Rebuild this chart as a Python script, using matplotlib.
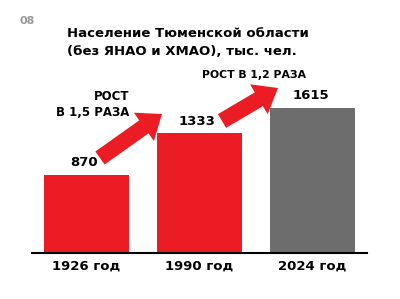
import matplotlib.pyplot as plt

# data
years = ['1926 год', '1990 год', '2024 год']
population = [870, 1333, 1615]
bar_colors = ['#EC1C24', '#EC1C24', '#6D6D6D']
growth_labels = ['РОСТ\nВ 1,5 РАЗА', 'РОСТ В 1,2 РАЗА']

fig = plt.figure(figsize=(4, 2.99), dpi=100)
ax = fig.add_axes([0.08, 0.1538, 0.8375, 0.602])

x = range(len(years))
ax.bar(x, population, width=0.75, color=bar_colors)
ax.set_xlim(-0.48, 2.48)
ax.set_ylim(0, 2000)

for i, v in enumerate(population):
    ax.text(i - 0.02, v + 133, str(v), ha='center', va='center',
            fontsize=9.5, fontweight='bold')

ax.set_xticks(list(x))
ax.set_xticklabels(years, fontsize=9.5, fontweight='bold')
ax.tick_params(axis='x', length=0, pad=5)
ax.set_yticks([])
for s in ['top', 'right', 'left']:
    ax.spines[s].set_visible(False)
ax.spines['bottom'].set_linewidth(1.5)

# title and page number
fig.text(0.05, 0.93, '08', fontsize=8, fontweight='bold', color='#999999',
         va='center')
fig.text(0.168, 0.858, 'Население Тюменской области\n(без ЯНАО и ХМАО), тыс. чел.',
         fontsize=9.5, fontweight='bold', va='center', linespacing=1.45)

# growth arrows
style = 'simple,head_length=1.6,head_width=2.5,tail_width=1.15'
ax.annotate('', xy=(162, 185), xytext=(100, 141),
            xycoords='figure pixels', textcoords='figure pixels',
            arrowprops=dict(arrowstyle=style, color='#EC1C24',
                            mutation_scale=10, lw=0, shrinkA=0, shrinkB=0))
ax.annotate('', xy=(278, 211), xytext=(222, 178),
            xycoords='figure pixels', textcoords='figure pixels',
            arrowprops=dict(arrowstyle=style, color='#EC1C24',
                            mutation_scale=10, lw=0, shrinkA=0, shrinkB=0))

fig.text(129 / 400, 1 - 105 / 299, growth_labels[0], fontsize=8.5,
         fontweight='bold', ha='right', va='center', multialignment='right',
         linespacing=1.3)
fig.text(254 / 400, 1 - 75 / 299, growth_labels[1], fontsize=7.8,
         fontweight='bold', ha='center', va='center')

fig.savefig('out.png', dpi=100)
